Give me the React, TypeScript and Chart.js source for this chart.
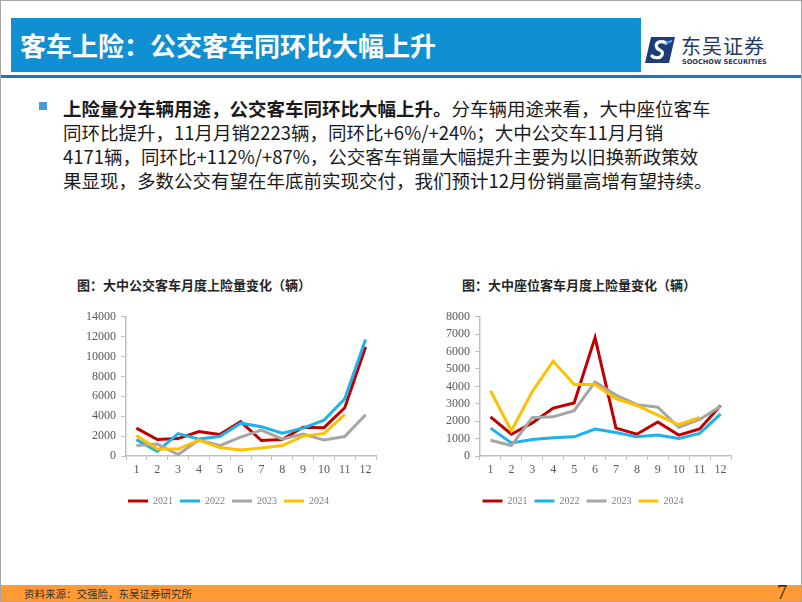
import React, { useEffect, useRef } from "react";
import { Chart, registerables } from "chart.js";

Chart.register(...registerables);

// ---------- data ----------
const months = ["1", "2", "3", "4", "5", "6", "7", "8", "9", "10", "11", "12"];
const seriesNames = ["2021", "2022", "2023", "2024"];
const seriesColors = ["#C00000", "#1EB1EC", "#A5A5A5", "#FFC000"];

// 大中公交客车月度上险量（辆）
const bus2021 = [2800, 1650, 1750, 2450, 2150, 3450, 1550, 1650, 2900, 2850, 4850, 10950];
const bus2022 = [1650, 450, 2250, 1700, 1950, 3300, 2950, 2300, 2800, 3600, 5750, 11700];
const bus2023 = [1050, 1200, 150, 1600, 1050, 1900, 2600, 1700, 2200, 1600, 1950, 4150];
const bus2024 = [2050, 700, 700, 1600, 850, 600, 800, 1050, 2000, 2250, 4171];
const busMax = 14000;
const busStep = 2000;

// 大中座位客车月度上险量（辆）
const seat2021 = [2250, 1250, 1900, 2750, 3050, 6800, 1600, 1250, 1950, 1200, 1550, 2900];
const seat2022 = [1600, 750, 950, 1050, 1100, 1550, 1350, 1100, 1200, 1000, 1300, 2400];
const seat2023 = [900, 600, 2200, 2250, 2600, 4250, 3500, 2950, 2800, 1650, 2097, 2850];
const seat2024 = [3750, 1450, 3700, 5450, 4100, 4100, 3300, 2900, 2350, 1793, 2223];
const seatMax = 8000;
const seatStep = 1000;

const CJK = '"Noto Sans CJK SC", "Noto Sans", sans-serif';
const SERIF = '"Liberation Serif", "DejaVu Serif", serif';
const AXIS = "#BFBFBF";
const TICK = "#595959";

type LCProps = {
  left: number;
  top: number;
  width: number;
  height: number;
  series: number[][];
  max: number;
  step: number;
};

function LineChart({ left, top, width, height, series, max, step }: LCProps) {
  const ref = useRef<HTMLCanvasElement>(null);
  useEffect(() => {
    if (!ref.current) return;
    const chart = new Chart(ref.current, {
      type: "line",
      data: {
        labels: months,
        datasets: series.map((d, i) => ({
          label: seriesNames[i],
          data: d,
          borderColor: seriesColors[i],
          backgroundColor: seriesColors[i],
          borderWidth: 3,
          pointRadius: 0,
          pointHoverRadius: 0,
          tension: 0,
          fill: false,
          order: 4 - i,
        })),
      },
      options: {
        responsive: false,
        maintainAspectRatio: false,
        animation: false,
        layout: { padding: { top: 15.7, right: 10, left: 0, bottom: 0 } },
        plugins: {
          tooltip: { enabled: false },
          legend: {
            position: "bottom",
            labels: {
              boxWidth: 20,
              boxHeight: 3,
              padding: 7,
              color: "#7F7F7F",
              font: { family: SERIF, size: 10 },
              sort: (a: any, b: any) => a.datasetIndex - b.datasetIndex,
              generateLabels: (c: any) =>
                (Chart.defaults.plugins.legend.labels as any)
                  .generateLabels(c)
                  .map((l: any) => ({ ...l, lineWidth: 0 })),
            },
          },
        },
        scales: {
          x: {
            offset: true,
            grid: {
              offset: true,
              display: true,
              drawOnChartArea: false,
              drawTicks: true,
              tickLength: 4,
              color: AXIS,
            },
            border: { color: AXIS, width: 1.5 },
            ticks: {
              color: TICK,
              font: { family: SERIF, size: 12 },
              padding: 3,
              maxRotation: 0,
              autoSkip: false,
            },
            afterFit: (s: any) => {
              s.height = 33;
            },
          },
          y: {
            min: 0,
            max,
            grid: {
              display: true,
              drawOnChartArea: false,
              drawTicks: true,
              tickLength: 5,
              color: AXIS,
            },
            border: { color: AXIS, width: 1.5 },
            ticks: {
              stepSize: step,
              color: TICK,
              font: { family: SERIF, size: 12 },
              padding: 5,
              callback: (v: any) => String(v),
            },
            afterFit: (s: any) => {
              s.width = 45;
            },
          },
        },
      },
    });
    return () => chart.destroy();
  }, []);
  return (
    <canvas
      ref={ref}
      width={width}
      height={height}
      style={{ position: "absolute", left, top, width, height }}
    />
  );
}

function Logo() {
  return (
    <div style={{ position: "absolute", left: 643, top: 33, width: 130, height: 34 }}>
      <svg width="30" height="26" viewBox="0 0 30 26" style={{ position: "absolute", left: 1, top: 3 }}>
        <path d="M6 0 H30 L24 26 H0 Z" fill="#1F3C78" />
        <path
          d="M21 6 C15 3, 9 6, 12 11 C14 14, 19 13, 17 18 C15 22, 9 21, 7 19"
          stroke="#FFFFFF"
          strokeWidth="3.2"
          fill="none"
          strokeLinecap="round"
        />
        <path d="M22 6 L26 4" stroke="#3FA9E0" strokeWidth="2.5" strokeLinecap="round" />
      </svg>
      <div
        style={{
          position: "absolute",
          left: 37,
          top: -1,
          fontFamily: CJK,
          fontSize: 20,
          lineHeight: "26px",
          color: "#1F3864",
          letterSpacing: 1,
          whiteSpace: "nowrap",
        }}
      >
        东吴证券
      </div>
      <div
        style={{
          position: "absolute",
          left: 38,
          top: 24,
          fontFamily: '"DejaVu Sans", sans-serif',
          fontWeight: 700,
          fontSize: 6.6,
          lineHeight: "8px",
          color: "#1F3864",
          whiteSpace: "nowrap",
        }}
      >
        SOOCHOW SECURITIES
      </div>
    </div>
  );
}

export default function App() {
  const textStyle: React.CSSProperties = {
    position: "absolute",
    left: 62,
    top: 95,
    fontFamily: CJK,
    fontSize: 18.5,
    lineHeight: "24px",
    color: "#1A1A1A",
    whiteSpace: "nowrap",
  };
  const chartTitle: React.CSSProperties = {
    position: "absolute",
    top: 276,
    fontFamily: CJK,
    fontWeight: 700,
    fontSize: 13,
    lineHeight: "16px",
    color: "#262626",
    whiteSpace: "nowrap",
  };
  return (
    <div
      style={{
        position: "absolute",
        left: 0,
        top: 0,
        width: 802,
        height: 602,
        overflow: "hidden",
        background: "#FFFFFF",
        boxSizing: "border-box",
        border: "1px solid #A6A6A6",
      }}
    >
      {/* title bar */}
      <div
        style={{
          position: "absolute",
          left: 10,
          top: 17,
          width: 630,
          height: 54,
          background: "#1090D3",
        }}
      />
      <div
        style={{
          position: "absolute",
          left: 19,
          top: 17,
          height: 54,
          lineHeight: "54px",
          fontFamily: CJK,
          fontWeight: 700,
          fontSize: 26,
          color: "#FFFFFF",
          whiteSpace: "nowrap",
        }}
      >
        客车上险：公交客车同环比大幅上升
      </div>
      <Logo />
      <div style={{ position: "absolute", left: 0, top: 74, width: 802, height: 3, background: "#1F74BD" }} />

      {/* bullet text */}
      <div style={{ position: "absolute", left: 38, top: 101, width: 8, height: 8, background: "#4E9AD8" }} />
      <div style={textStyle}>
        <b>上险量分车辆用途，公交客车同环比大幅上升。</b>分车辆用途来看，大中座位客车
        <br />
        同环比提升，11月月销2223辆，同环比+6%/+24%；大中公交车11月月销
        <br />
        4171辆，同环比+112%/+87%，公交客车销量大幅提升主要为以旧换新政策效
        <br />
        果显现，多数公交有望在年底前实现交付，我们预计12月份销量高增有望持续。
      </div>

      {/* chart titles */}
      <div style={{ ...chartTitle, left: 76 }}>图：大中公交客车月度上险量变化（辆）</div>
      <div style={{ ...chartTitle, left: 461 }}>图：大中座位客车月度上险量变化（辆）</div>

      <LineChart
        left={80}
        top={300}
        width={305}
        height={215}
        series={[bus2021, bus2022, bus2023, bus2024]}
        max={busMax}
        step={busStep}
      />
      <LineChart
        left={434}
        top={300}
        width={306}
        height={215}
        series={[seat2021, seat2022, seat2023, seat2024]}
        max={seatMax}
        step={seatStep}
      />

      {/* footer */}
      <div style={{ position: "absolute", left: 0, top: 584, width: 802, height: 18, background: "#FF9A35" }} />
      <div
        style={{
          position: "absolute",
          left: 23,
          top: 584,
          height: 18,
          lineHeight: "18px",
          fontFamily: CJK,
          fontSize: 10.5,
          color: "#333333",
          whiteSpace: "nowrap",
        }}
      >
        资料来源：交强险，东吴证券研究所
      </div>
      <div
        style={{
          position: "absolute",
          left: 776,
          top: 580,
          lineHeight: "22px",
          fontFamily: SERIF,
          fontSize: 20,
          color: "#222222",
        }}
      >
        7
      </div>
    </div>
  );
}
